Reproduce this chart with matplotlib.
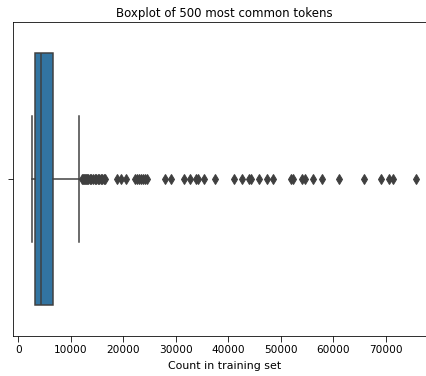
import matplotlib
matplotlib.use("Agg")
import matplotlib.pyplot as plt

# Summary statistics of token counts (500 most common tokens)
whisker_low = 2670
q1 = 3180
median = 4260
q3 = 6660
whisker_high = 11500

# Tokens beyond the upper whisker
outliers = [
    12100, 12300, 12500, 12700, 12900, 13100, 13300, 13600, 13900, 14200,
    14500, 14800, 15100, 15400, 15700, 16000, 16300, 16500,
    18700, 19600, 20500,
    22200, 22600, 23000, 23300, 23700, 24100, 24500,
    27900, 29000,
    31500, 32700, 33800, 34300, 35400, 37500,
    41000, 42600, 44000, 44300, 45900, 47300, 48500,
    52000, 52300, 54000, 54500, 56100, 57900,
    61000, 65800, 69000, 70600, 71300, 75800,
]

stats = [dict(whislo=whisker_low, q1=q1, med=median, q3=q3,
              whishi=whisker_high, fliers=outliers)]

box_color = "#3274a1"
line_color = "#3f3f3f"

fig = plt.figure(figsize=(426 / 72, 376 / 72), dpi=72)
ax = fig.add_axes([13.3 / 426, 40 / 376, 422.2 / 426, 314.3 / 376])

ax.bxp(stats, positions=[0], widths=0.8, vert=False, patch_artist=True,
       boxprops=dict(facecolor=box_color, edgecolor=line_color, linewidth=1.5),
       medianprops=dict(color=line_color, linewidth=1.5),
       whiskerprops=dict(color=line_color, linewidth=1.5),
       capprops=dict(color=line_color, linewidth=1.5),
       flierprops=dict(marker="d", markersize=7, markerfacecolor=line_color,
                       markeredgecolor=line_color, linestyle="none"))

ax.set_ylim(0.5, -0.5)
ax.set_yticks([0])
ax.set_yticklabels([""])
ax.tick_params(length=5.5, labelsize=10.5)
ax.set_xlabel("Count in training set", fontsize=11, labelpad=6)
ax.set_title("Boxplot of 500 most common tokens", fontsize=11.8, pad=5)

fig.savefig("out.png", dpi=72)
